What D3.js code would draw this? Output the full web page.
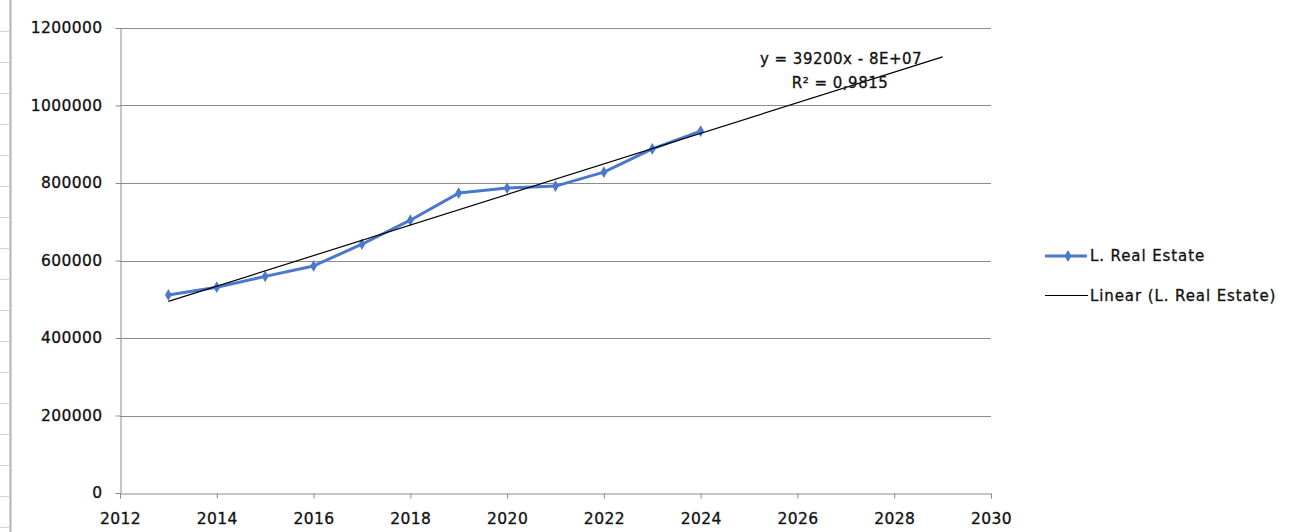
<!DOCTYPE html>
<html><head><meta charset="utf-8">
<script src="https://cdn.jsdelivr.net/npm/d3@7"></script>
<style>body{margin:0;background:#fff;}svg{display:block;}
text{paint-order:stroke;stroke:#333;stroke-width:0.35px;}</style>
</head><body>
<svg id="c" width="1298" height="532"></svg>
<script>
const years = [2013,2014,2015,2016,2017,2018,2019,2020,2021,2022,2023,2024];
const values = [511000,531000,559000,586000,642000,704000,774000,787000,792000,828000,888000,934000];
const xTicks = [2012,2014,2016,2018,2020,2022,2024,2026,2028,2030];
const yTicks = [0,200000,400000,600000,800000,1000000,1200000];
const seriesName = "L. Real Estate";
const trendName = "Linear (L. Real Estate)";
const eqText = "y = 39200x - 8E+07";
const r2Text = "R² = 0,9815";
const trendRange = [2013, 2029];

const svg = d3.select("#c");
const font = "DejaVu Sans, Verdana, sans-serif";
const x = d3.scaleLinear().domain([2012,2030]).range([120,991]);
const y = d3.scaleLinear().domain([0,1200000]).range([493,28]);

// spreadsheet edge decoration
svg.append("line").attr("x1",10.5).attr("x2",10.5).attr("y1",0).attr("y2",532).attr("stroke","#b4b4b4").attr("stroke-width",2);
d3.range(31,532,31).forEach(v=>{
  svg.append("line").attr("x1",0).attr("x2",10).attr("y1",v+0.5).attr("y2",v+0.5).attr("stroke","#d4d4d4");
});

// gridlines
svg.append("g").selectAll("line").data(yTicks.filter(d=>d>0)).join("line")
  .attr("x1",x(2012)).attr("x2",x(2030))
  .attr("y1",d=>Math.round(y(d))+0.5).attr("y2",d=>Math.round(y(d))+0.5)
  .attr("stroke","#8c8c8c").attr("stroke-width",1);

// axes
const yAxis = svg.append("g").attr("transform",`translate(${x(2012)+0.5},0)`)
  .call(d3.axisLeft(y).tickValues(yTicks).tickSize(5).tickPadding(13).tickFormat(d3.format("d")));
const xAxis = svg.append("g").attr("transform",`translate(0,${y(0)+0.5})`)
  .call(d3.axisBottom(x).tickValues(xTicks).tickSize(5).tickPadding(14).tickFormat(d3.format("d")));
[yAxis,xAxis].forEach(g=>{
  g.select(".domain").attr("stroke","#8c8c8c");
  g.selectAll(".tick line").attr("stroke","#8c8c8c");
  g.selectAll("text").attr("font-family",font).attr("font-size","15.5px").attr("fill","#111").attr("letter-spacing","0.4px");
});

// series line
const line = d3.line().x((d,i)=>x(years[i])).y(d=>y(d));
svg.append("path").datum(values).attr("d",line).attr("fill","none")
  .attr("stroke","#4a78cc").attr("stroke-width",3).attr("stroke-linejoin","round");
const diamond = d3.symbol().type(d3.symbolDiamond).size(40);
svg.append("g").selectAll("path").data(values).join("path")
  .attr("d",diamond).attr("transform",(d,i)=>`translate(${x(years[i])},${y(d)})`)
  .attr("fill","#4a78cc");

// linear trend (least squares)
const mx = d3.mean(years), my = d3.mean(values);
const slope = d3.sum(years.map((v,i)=>(v-mx)*(values[i]-my))) / d3.sum(years.map(v=>(v-mx)*(v-mx)));
const icpt = my - slope*mx;
svg.append("line")
  .attr("x1",x(trendRange[0])).attr("y1",y(slope*trendRange[0]+icpt))
  .attr("x2",x(trendRange[1])).attr("y2",y(slope*trendRange[1]+icpt))
  .attr("stroke","#000").attr("stroke-width",1.2);

// equation label
svg.append("text").attr("x",841).attr("y",64).attr("text-anchor","middle")
  .attr("font-family",font).attr("font-size","15px").attr("letter-spacing","0.5px").attr("fill","#111").text(eqText);
svg.append("text").attr("x",840).attr("y",88).attr("text-anchor","middle")
  .attr("font-family",font).attr("font-size","15px").attr("letter-spacing","0.5px").attr("fill","#111").text(r2Text);

// legend
const lg = svg.append("g");
lg.append("line").attr("x1",1045).attr("x2",1087).attr("y1",256).attr("y2",256).attr("stroke","#4a78cc").attr("stroke-width",3);
lg.append("path").attr("d",diamond).attr("transform","translate(1068,256)").attr("fill","#4a78cc");
lg.append("text").attr("x",1090).attr("y",261).attr("font-family",font).attr("font-size","15px").attr("letter-spacing","0.9px").attr("fill","#111").text(seriesName);
lg.append("line").attr("x1",1045).attr("x2",1088).attr("y1",295.5).attr("y2",295.5).attr("stroke","#000").attr("stroke-width",1.2);
lg.append("text").attr("x",1090).attr("y",301).attr("font-family",font).attr("font-size","15px").attr("letter-spacing","0.9px").attr("fill","#111").text(trendName);
</script>
</body></html>
